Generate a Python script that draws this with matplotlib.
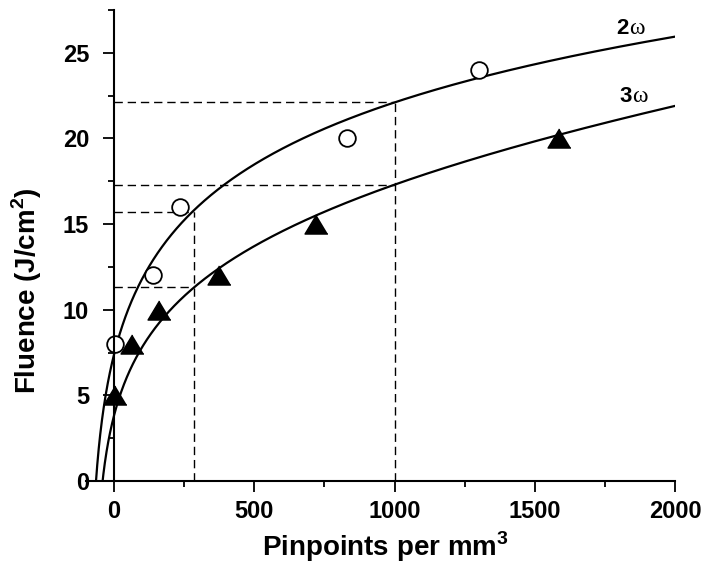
import numpy as np
import matplotlib
matplotlib.use('Agg')
import matplotlib.pyplot as plt
from matplotlib.ticker import MultipleLocator

plt.rcParams['font.family'] = ['Liberation Sans', 'DejaVu Sans']
plt.rcParams['mathtext.fontset'] = 'custom'
plt.rcParams['mathtext.rm'] = 'Liberation Sans'
plt.rcParams['mathtext.bf'] = 'Liberation Sans:bold'

# measured points, 2-omega (open circles)
x_2w = [5, 140, 235, 830, 1300]
y_2w = [8, 12, 16, 20, 24]

# measured points, 3-omega (filled triangles)
x_3w = [3, 63, 162, 375, 720, 1585]
y_3w = [5, 8, 10, 12, 15, 20]

# fitted curves: y = a + b*ln(x + c) + d*x
fit_2w = (-19.16, 5.90, 90.0, 0.0)
fit_3w = (-14.43, 4.296, 70.0, 0.001765)

# dashed read-off guides: (x where vertical stops, y level of 2w, y level of 3w)
guide_x = [285, 1000]
guide_y_2w = [15.7, 22.1]
guide_y_3w = [11.3, 17.3]


def fit_curve(x, params):
    a, b, c, d = params
    return a + b * np.log(x + c) + d * x


fig = plt.figure(figsize=(7.03, 5.66), dpi=100)
ax = fig.add_axes([0.1223, 0.1502, 0.8379, 0.8321])

lw_dash = 1.0
for gx, g2, g3 in zip(guide_x, guide_y_2w, guide_y_3w):
    ax.plot([0, gx], [g2, g2], color='black', lw=lw_dash, dashes=(6, 3.5))
    ax.plot([0, gx], [g3, g3], color='black', lw=lw_dash, dashes=(6, 3.5))
    ax.plot([gx, gx], [0, g2], color='black', lw=lw_dash, dashes=(6, 3.5))

for params in (fit_2w, fit_3w):
    xs = np.linspace(-params[2] + 1, 2000, 2000)
    ax.plot(xs, fit_curve(xs, params), color='black', lw=1.6)

ax.plot(x_2w, y_2w, linestyle='none', marker='o', markersize=12,
        markerfacecolor='white', markeredgecolor='black', markeredgewidth=1.3)
tri = [(0, 1), (-1.2, -1), (1.2, -1)]
ax.plot(x_3w, y_3w, linestyle='none', marker=tri, markersize=16.5,
        color='black')

t2 = ax.text(1792, 26.1, '2', fontsize=16, fontweight='bold', va='baseline')
ax.annotate('ω', xy=(1, 0), xycoords=t2, va='bottom', ha='left',
            fontsize=17, family=['Liberation Serif'])
t3 = ax.text(1803, 22.15, '3', fontsize=16, fontweight='bold', va='baseline')
ax.annotate('ω', xy=(1, 0), xycoords=t3, va='bottom', ha='left',
            fontsize=17, family=['Liberation Serif'])

ax.set_xlim(-100, 2000)
ax.set_ylim(0, 27.5)
ax.spines['left'].set_position(('data', 0))
ax.spines['top'].set_visible(False)
ax.spines['right'].set_visible(False)
for side in ('left', 'bottom'):
    ax.spines[side].set_linewidth(1.5)

ax.xaxis.set_major_locator(MultipleLocator(500))
ax.xaxis.set_minor_locator(MultipleLocator(250))
ax.yaxis.set_major_locator(MultipleLocator(5))
ax.yaxis.set_minor_locator(MultipleLocator(2.5))
ax.tick_params(which='major', length=8, width=1.3, labelsize=17)
ax.tick_params(which='minor', length=4, width=1.3)
ax.tick_params(axis='x', which='major', pad=6)
ax.tick_params(axis='y', which='major', pad=10)
for lab in ax.get_xticklabels() + ax.get_yticklabels():
    lab.set_fontweight('bold')

ax.set_xlabel(r'Pinpoints per mm$^\mathbf{3}$', fontsize=20, fontweight='bold')
ax.set_ylabel(r'Fluence (J/cm$^\mathbf{2}$)', fontsize=20, fontweight='bold')
ax.xaxis.set_label_coords(0.508, -0.102)
ax.yaxis.set_label_coords(-0.072, 0.405)

fig.savefig('out.png', dpi=100)
